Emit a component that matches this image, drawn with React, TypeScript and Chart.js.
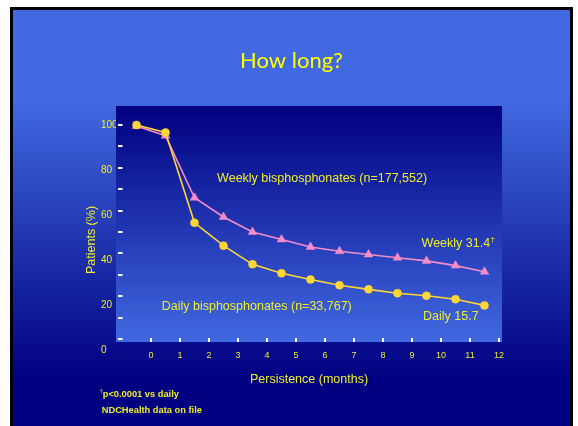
import React, { useEffect, useRef } from 'react';
import { Chart, registerables } from 'chart.js';

Chart.register(...registerables);

// ---- data ----
const titleText = 'How long?';
const pointMonths = [-0.5, 0.5, 1.5, 2.5, 3.5, 4.5, 5.5, 6.5, 7.5, 8.5, 9.5, 10.5, 11.5];
const dailyValues = [100, 96.5, 54.3, 43.6, 34.9, 30.7, 27.8, 25.1, 23.2, 21.4, 20.2, 18.6, 15.7];
const weeklyValues = [99.5, 95, 66, 57, 50, 46.5, 43, 41, 39.5, 38, 36.5, 34.3, 31.4];
const xTickValues = [0, 1, 2, 3, 4, 5, 6, 7, 8, 9, 10, 11, 12];
const yTickValues = [0, 20, 40, 60, 80, 100];
const yMinorTickValues = [0, 10, 20, 30, 40, 50, 60, 70, 80, 90, 100];
const xAxisTitle = 'Persistence (months)';
const yAxisTitle = 'Patients (%)';
const weeklyNote = 'Weekly bisphosphonates (n=177,552)';
const dailyNote = 'Daily bisphosphonates (n=33,767)';
const weeklyEnd = 'Weekly 31.4';
const dailyEnd = 'Daily 15.7';
const footnote1 = 'p<0.0001 vs daily';
const footnote2 = 'NDCHealth data on file';

const SANS = "'Liberation Sans', Arial, sans-serif";
const YELLOW = 'rgb(238,238,40)';
const GOLD = '#FFD633';
const PINK = '#F58CC8';
const ROYAL = '#4169E1';
const NAVY = '#000080';

const slidePlugin = {
  id: 'slidePlugin',
  beforeDraw(chart: any) {
    const { ctx, chartArea: ca, width, height } = chart;
    ctx.save();
    ctx.fillStyle = '#ffffff';
    ctx.fillRect(0, 0, width, height);
    ctx.fillStyle = '#000000';
    ctx.fillRect(10, 7, 563, height - 7);
    const g = ctx.createLinearGradient(0, 100, 0, 380);
    g.addColorStop(0, ROYAL);
    g.addColorStop(1, NAVY);
    ctx.fillStyle = g;
    ctx.fillRect(13, 10, 557, height - 10);
    const pg = ctx.createLinearGradient(0, ca.top, 0, ca.bottom);
    pg.addColorStop(0, NAVY);
    pg.addColorStop(1, ROYAL);
    ctx.fillStyle = pg;
    ctx.fillRect(ca.left, ca.top, ca.right - ca.left, ca.bottom - ca.top);
    ctx.fillStyle = '#FFFF00';
    ctx.font = "22px Lato, 'Open Sans', sans-serif";
    ctx.textAlign = 'center';
    ctx.textBaseline = 'middle';
    ctx.fillText(titleText, 291.5, 61);
    ctx.restore();
  },
  beforeDatasetsDraw(chart: any) {
    const { ctx, chartArea: ca, scales } = chart;
    ctx.save();
    ctx.fillStyle = '#FFFFFF';
    yMinorTickValues.forEach((v) => {
      const py = Math.round(scales.y.getPixelForValue(v));
      ctx.fillRect(ca.left + 2, py - 1, 4.5, 2);
    });
    xTickValues.forEach((v) => {
      const px = Math.round(scales.x.getPixelForValue(v));
      ctx.fillRect(px - 1, ca.bottom - 4, 2, 4);
    });
    ctx.restore();
  },
  afterDraw(chart: any) {
    const { ctx, chartArea: ca, scales } = chart;
    const xs = scales.x;
    const ys = scales.y;
    ctx.save();
    ctx.fillStyle = YELLOW;
    ctx.textBaseline = 'middle';
    ctx.textAlign = 'left';
    ctx.font = `12.5px ${SANS}`;
    const note = (t: string, mx: number, vy: number, dagger = false) => {
      const x = xs.getPixelForValue(mx);
      const y = ys.getPixelForValue(vy);
      ctx.font = `12.5px ${SANS}`;
      ctx.fillText(t, x, y);
      if (dagger) {
        const w = ctx.measureText(t).width;
        ctx.font = `8px ${SANS}`;
        ctx.fillText('\u2020', x + w + 0.5, y - 4);
      }
    };
    note(weeklyNote, 2.28, 75.1);
    note(weeklyEnd, 9.33, 44.7, true);
    note(dailyNote, 0.37, 15.1);
    note(dailyEnd, 9.38, 10.4);

    // axis titles
    ctx.font = `12.5px ${SANS}`;
    ctx.textAlign = 'center';
    ctx.fillText(xAxisTitle, (ca.left + ca.right) / 2, ca.bottom + 37.5);
    ctx.save();
    ctx.translate(ca.left - 24.3, 240);
    ctx.rotate(-Math.PI / 2);
    ctx.fillText(yAxisTitle, 0, 0);
    ctx.restore();

    // footnotes
    ctx.textAlign = 'left';
    ctx.font = `6px ${SANS}`;
    ctx.fillText('\u2020', 99.5, 391);
    ctx.font = `bold 9.3px ${SANS}`;
    ctx.fillText(footnote1, 102.7, 394.5);
    ctx.fillText(footnote2, 101.7, 410.5);
    ctx.restore();
  },
};

export default function App() {
  const ref = useRef<HTMLCanvasElement | null>(null);

  useEffect(() => {
    if (!ref.current) return;
    const chart = new Chart(ref.current, {
      type: 'line',
      data: {
        datasets: [
          {
            label: 'Daily',
            data: pointMonths.map((m, i) => ({ x: m, y: dailyValues[i] })),
            borderColor: GOLD,
            backgroundColor: GOLD,
            borderWidth: 1.6,
            pointStyle: 'circle',
            pointRadius: 4,
            pointBorderWidth: 0.5,
            pointBorderColor: GOLD,
            pointBackgroundColor: GOLD,
            tension: 0,
          },
          {
            label: 'Weekly',
            data: pointMonths.map((m, i) => ({ x: m, y: weeklyValues[i] })),
            borderColor: PINK,
            backgroundColor: PINK,
            borderWidth: 1.6,
            pointStyle: 'triangle',
            pointRadius: 5,
            pointBorderWidth: 0.5,
            pointBorderColor: PINK,
            pointBackgroundColor: PINK,
            tension: 0,
          },
        ],
      },
      options: {
        responsive: false,
        animation: false,
        devicePixelRatio: 1,
        layout: { padding: { left: 101, top: 106, right: 76, bottom: 54 } },
        plugins: {
          legend: { display: false },
          tooltip: { enabled: false },
          title: { display: false },
        },
        scales: {
          x: {
            type: 'linear',
            min: -35 / 29,
            max: 351 / 29,
            afterBuildTicks: (s: any) => {
              s.ticks = xTickValues.map((v) => ({ value: v }));
            },
            afterFit: (s: any) => {
              s.height = 30;
            },
            grid: { display: false, drawTicks: false },
            border: { display: false },
            ticks: {
              color: YELLOW,
              font: { family: SANS, size: 9 },
              padding: 8,
              autoSkip: false,
              maxRotation: 0,
              callback: (v: any) => String(v),
            },
          },
          y: {
            type: 'linear',
            min: -3 / 2.14,
            max: 233 / 2.14,
            display: false,
          },
          yl: {
            type: 'linear',
            position: 'left',
            min: 3.565,
            max: 108.73,
            afterBuildTicks: (s: any) => {
              s.ticks = yTickValues.map((v) => ({ value: v }));
            },
            afterFit: (s: any) => {
              s.width = 15;
            },
            grid: { display: false, drawTicks: false },
            border: { display: false },
            ticks: {
              color: YELLOW,
              font: { family: SANS, size: 10 },
              crossAlign: 'far',
              autoSkip: false,
              callback: (v: any) => String(v),
            },
          },
        },
      },
      plugins: [slidePlugin],
    } as any);
    return () => chart.destroy();
  }, []);

  return (
    <div style={{ position: 'absolute', left: 0, top: 0, width: 578, height: 426 }}>
      <canvas ref={ref} width={578} height={426} style={{ width: 578, height: 426, display: 'block' }} />
    </div>
  );
}
